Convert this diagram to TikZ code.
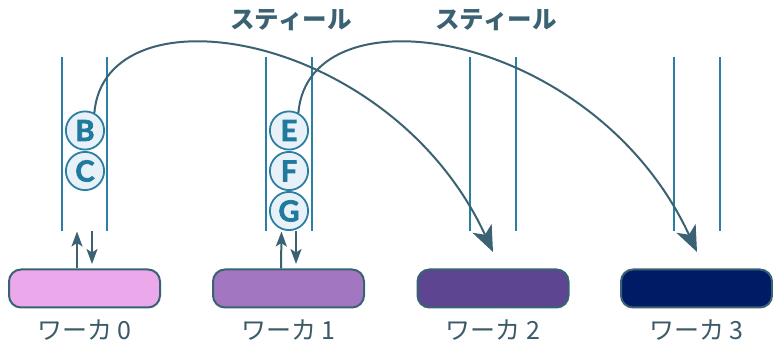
\documentclass[tikz,border=0pt]{standalone}
\usepackage{fontspec}
\setmainfont{Lato}
\newfontfamily\letterfont[FakeBold=2.5]{Lato}
\newfontfamily\jpfont{Noto Sans CJK JP}
\usetikzlibrary{arrows.meta}
\definecolor{slate}{HTML}{3B6272}
\definecolor{lane}{HTML}{2A7FA3}
\definecolor{itemfill}{HTML}{E8F1F8}
\definecolor{itemtext}{HTML}{1F7A9E}
\definecolor{labelc}{HTML}{3D5A68}
\definecolor{wzero}{HTML}{EBA9EB}
\definecolor{wone}{HTML}{A376C1}
\definecolor{wtwo}{HTML}{5E4591}
\definecolor{wthree}{HTML}{001B66}
\tikzset{
  lanestyle/.style={draw=lane, line width=2.2pt},
  item/.style={circle, draw=lane, fill=itemfill, line width=1.8pt, minimum size=38.2pt, inner sep=0pt, text=itemtext, font=\letterfont\bfseries\fontsize{29}{29}\selectfont},
  worker/.style={draw=slate, rounded corners=12pt, line width=2pt, minimum width=151pt, minimum height=38pt},
  wlabel/.style={text=labelc, font=\jpfont\fontsize{25}{25}\selectfont},
  steallabel/.style={text=slate, font=\jpfont\bfseries\fontsize{24.5}{25}\selectfont},
  steal/.style={draw=slate, line width=2pt, -{Stealth[length=26pt, width=21pt, inset=7pt]}},
  small/.style={draw=slate, line width=2pt, -{Stealth[length=15pt, width=11pt, inset=3.5pt]}},
}
\begin{document}
\begin{tikzpicture}[x=1pt, y=-1pt]
\useasboundingbox (0,0) rectangle (773,344);
% lanes
\foreach \c/\n in {84.5/0, 289/1, 493/2, 697/3} {
  \draw[lanestyle] (\c-22.8,57) -- (\c-22.8,231);
  \draw[lanestyle] (\c+22.8,57) -- (\c+22.8,231);
}
% items
\node[item] (B) at (85,130.5) {B};
\node[item] (C) at (85,171) {C};
\node[item] (E) at (289,130.5) {E};
\node[item] (F) at (289,171) {F};
\node[item] (G) at (289,211) {G};
% workers
\node[worker, fill=wzero] (w0) at (84.5,288.5) {};
\node[worker, fill=wone] (w1) at (288.5,288.5) {};
\node[worker, fill=wtwo] (w2) at (493,288.5) {};
\node[worker, fill=wthree] (w3) at (696.5,288.5) {};
\node[wlabel] (l0) at (84.5,330) {ワーカ 0};
\node[wlabel] (l1) at (288.5,330) {ワーカ 1};
\node[wlabel] (l2) at (493,330) {ワーカ 2};
\node[wlabel] (l3) at (696.5,330) {ワーカ 3};
% small arrows
\coordinate (q0) at (84.5,231.5);
\coordinate (q1) at (289,231.5);
\coordinate (d0) at (84.5,264);
\coordinate (d1) at (289,264);
\draw[small] ([xshift=-7.5pt]w0.north) -- ([xshift=-7.5pt]q0);
\draw[small] ([xshift=7.5pt]q0) -- ([xshift=7.5pt]d0);
\draw[small] ([xshift=-7.5pt]w1.north) -- ([xshift=-7.5pt]q1);
\draw[small] ([xshift=7pt]q1) -- ([xshift=7pt]d1);
% steals
\coordinate (t2) at (493,252);
\coordinate (t3) at (697,252);
\draw[steal] (B.62) .. controls (105,-15) and (390,30) .. (t2);
\draw[steal] (E.62) .. controls (309,-15) and (594,30) .. (t3);
\node[steallabel] (s1) at (291,20) {スティール};
\node[steallabel] (s2) at (496,20) {スティール};
\end{tikzpicture}
\end{document}
